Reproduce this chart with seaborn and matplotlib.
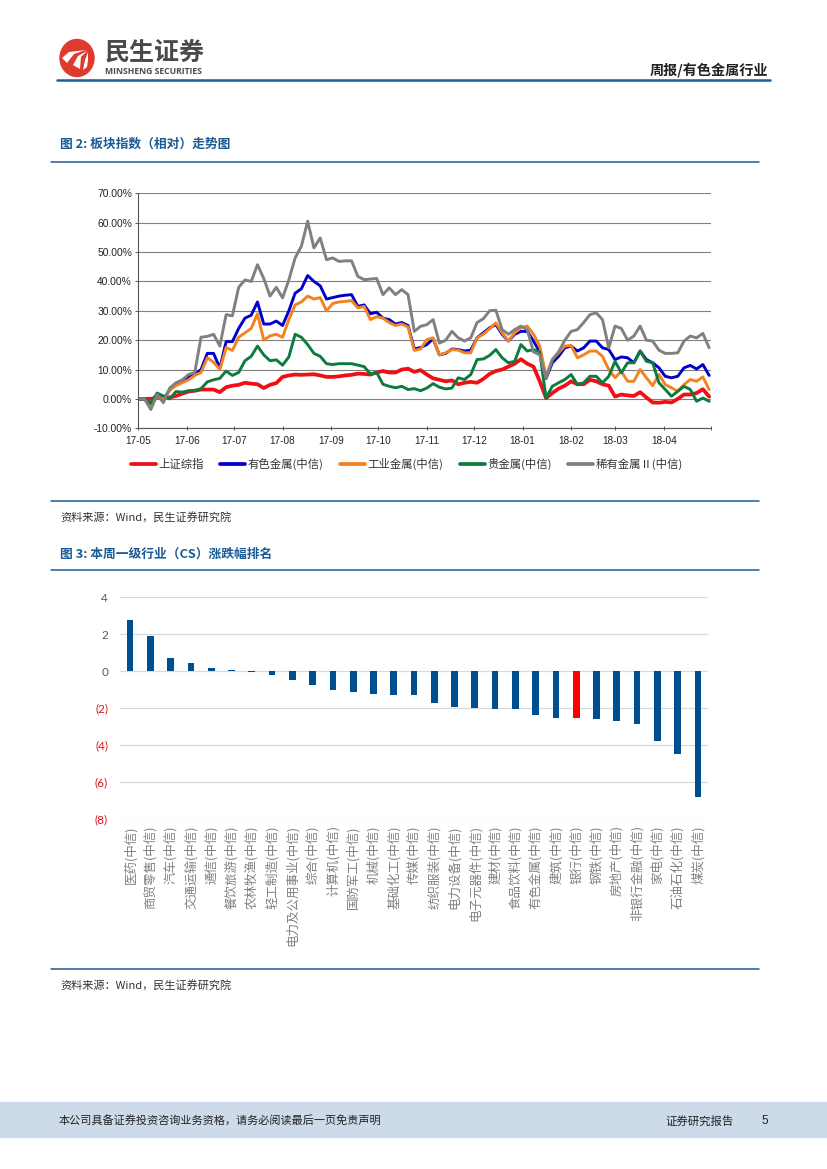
import matplotlib
matplotlib.use("Agg")
import matplotlib.pyplot as plt
from matplotlib.patches import Ellipse, Rectangle
import seaborn as sns
import pandas as pd

W, H = 827, 1169
CJK = ['Noto Sans CJK SC', 'DejaVu Sans']
NAVY = "#1B5A94"

# ---- chart 1: relative index, one reading every 4 days ----
dates = pd.date_range("2017-05-01", periods=92, freq="4D")
sse = [0, 0, 0, 0.5, 0.7, 0.5, 1, 1.8, 2.5, 2.8, 3.2, 3.2, 3.2, 2.3, 4, 4.5, 4.8, 5.5, 5.2, 5.0, 3.7, 4.8, 5.4,
       7.5, 8, 8.3, 8.2, 8.3, 8.4, 8, 7.5, 7.5, 7.7, 8, 8.2, 8.6, 8.5, 8.3, 9, 9.5, 9, 9, 10, 10.3, 9.2, 9.8,
       8.3, 7, 6.5, 6, 6.3, 5, 5.5, 5.8, 5.5, 6.8, 8.5, 9.5, 10, 11, 12, 13.5, 12, 11, 6, 0.3, 2.0, 3.5, 4.5, 6,
       5, 5, 6.5, 6, 5, 4.5, 0.8, 1.5, 1.2, 1, 2.3, 0.5, -1.2, -1.3, -1, -1.2, 0, 1.5, 1.5, 2, 3.3, 0.8]
nonferrous = [0, 0, -2.5, 1.5, 0, 3, 5, 6, 7.5, 8.5, 10, 15.5, 15.5, 10.5, 19.5, 19.5, 24, 27.5, 28.5, 33, 25.5, 25.5,
              26.5, 25, 30, 36, 37.5, 42, 40, 38.5, 34, 34.5, 35, 35.3, 35.5, 31.5, 32, 29, 29.5, 27.5, 27, 25.5, 26,
              25, 17, 17.5,
              18.5, 20.5, 15, 15.5, 17, 16.8, 16.3, 16.6, 20.8, 22.5, 24.2, 25.3, 22, 19.7, 22, 23, 23, 19.7, 16, 7,
              12.3, 14.5, 17.4, 18, 16.3, 17.4, 19.7, 19.7, 17.4, 16.8, 13.4, 14.3, 14, 12.3, 16.3, 13.4, 12.3, 10.6,
              7.7, 7.2, 7.7, 10.6, 11.4, 10.2, 11.7, 8]
industrial = [0, 0, -2.5, 1, 0, 3, 4.5, 5.5, 6.5, 8, 9, 14, 12.5, 10, 17.5, 16.5, 21, 22.5, 24, 29, 20, 21.5, 22, 21,
              27, 32, 33, 35, 34, 34.5, 30, 32.5, 33, 33.2, 33.5, 31, 31.5, 27, 28, 27.5, 26, 25, 25.5, 24.5, 16.5, 17,
              20.2, 20.8, 15, 15.7, 16.8, 16.6, 15.7, 15.7, 20.8, 22, 23.9, 25.9, 22.5, 19.7, 22.5, 24.2, 24.8, 22, 18,
              7.7, 13.4, 15.7, 18, 18.2, 14, 15, 16.3, 16.3, 14.5, 10, 7.2, 9.4, 6, 6, 10, 7.2, 4.5, 8.3, 4.9, 3.8,
              2.6, 4.9, 6.6, 6, 7.5, 3.2]
precious = [0, 0, -1.5, 2, 1, 0, 2.5, 2.3, 2.8, 2.8, 3.5, 5.8, 6.5, 7, 9.5, 8, 9, 13, 14.5, 18, 15, 13, 13.3, 11.5,
            14.3, 22, 21, 18.5, 15.5, 14.5, 12, 11.7, 12, 12, 12, 11.5, 11, 8.5, 9, 5, 4.3, 3.8, 4.3, 3.2, 3.5, 2.8,
            3.7, 5.2, 4, 3.4, 3.7, 7.2, 6.6, 8.3, 13.4, 13.6, 14.8, 16.8, 14, 12.3, 12.8, 18.5, 16.3, 16.8, 16, 0.3,
            4.3, 5.5, 6.6, 8.3, 4.9, 5.5, 7.7, 7.7, 5.5, 7.7, 12.8, 8.9, 12.3, 12.3, 16.3, 12.8, 12.3, 5.5, 3.2, 0.9,
            2.6, 4.3, 3.2, -0.8, 0.3, -0.8]
rare = [0, 0, -3.6, 1.5, -1.3, 3.7, 5.5, 6.5, 8.3, 9, 21, 21.3, 22, 18, 28.7, 28.3, 38, 40.5, 40, 45.7, 41, 35, 38,
        34.4, 40.5, 48, 52, 60.5, 51.4, 54.8, 47.4, 48, 46.8, 47, 47, 41.7, 40.6, 40.8, 41, 35.5, 37.8, 35.5, 37.2,
        35.5, 23, 24.7,
        25.3, 27, 19, 20, 23, 20.8, 19.7, 20.8, 26, 27.3, 30, 30.2, 23.6, 22, 23.6, 24.8, 23.6, 16, 15, 7, 13.4, 16,
        20, 23, 23.6, 26, 28.7, 29.3, 27, 17.4, 24.8, 24, 20, 21.4, 24.8, 20, 19.7, 16.6, 15.5, 15.5, 15.7, 19.7,
        21.4, 20.8, 22.3, 17.4]
series_names = ["上证综指", "有色金属(中信)", "工业金属(中信)", "贵金属(中信)", "稀有金属Ⅱ(中信)"]
series_colors = ["#F00F14", "#0000CC", "#F58220", "#0B7B3E", "#808080"]
pct_ticks = [-10, 0, 10, 20, 30, 40, 50, 60, 70]

# ---- chart 2: weekly industry move ----
industries = ["医药", "商贸零售", "汽车", "交通运输", "通信", "餐饮旅游", "农林牧渔", "轻工制造", "电力及公用事业", "综合",
              "计算机", "国防军工", "机械", "基础化工", "传媒", "纺织服装", "电力设备", "电子元器件", "建材", "食品饮料",
              "有色金属", "建筑", "银行", "钢铁", "房地产", "非银行金融", "家电", "石油石化", "煤炭"]
moves = [2.75, 1.9, 0.72, 0.42, 0.15, 0.05, -0.03, -0.18, -0.5, -0.75, -1.02, -1.15, -1.22, -1.27, -1.28, -1.72,
         -1.92, -1.97, -2.04, -2.04, -2.36, -2.53, -2.54, -2.58, -2.69, -2.87, -3.79, -4.48, -6.8]
move_ticks = [4, 2, 0, -2, -4, -6, -8]
highlight = "银行"


def axes_px(fig, left, top, right, bottom):
    return fig.add_axes([left / W, 1 - bottom / H, (right - left) / W, (bottom - top) / H])


def draw_page(page):
    # page furniture, coordinates in pixels of the page
    page.set_xlim(0, W)
    page.set_ylim(H, 0)
    page.axis("off")

    # logo
    page.add_patch(Ellipse((77, 58), 34, 37, color="#DF3A30"))
    page.fill([62, 69, 86, 74, 67], [58, 52, 50, 54, 63], color="white", lw=0)
    page.fill([73, 78, 87, 81, 80], [65, 56, 51, 57, 69], color="white", lw=0)
    page.fill([83, 85, 88, 88, 87], [70, 60, 52, 60, 67], color="white", lw=0)
    page.text(104.5, 53, "民生证券", family=CJK, fontsize=18, fontweight="bold", color="#4A4A4A", va="center")
    page.text(105, 71, "MINSHENG SECURITIES", family="Open Sans", fontsize=6.2, fontweight="bold",
              color="#4A4A4A", va="center")
    page.text(768, 70, "周报/有色金属行业", family=CJK, fontsize=10.2, fontweight="bold", color="#222222",
              ha="right", va="center")
    page.plot([57, 770], [80, 80], color=NAVY, lw=1.8)

    # section rules and captions
    for y in [161.5, 500.5, 570, 969]:
        page.plot([51, 759], [y, y], color=NAVY, lw=1.1)
    page.text(60, 144, "图 2: 板块指数（相对）走势图", family=CJK, fontsize=9.2, fontweight="bold", color=NAVY, va="center")
    page.text(60, 554, "图 3: 本周一级行业（CS）涨跌幅排名", family=CJK, fontsize=9.2, fontweight="bold", color=NAVY,
              va="center")
    page.text(60, 517, "资料来源：Wind，民生证券研究院", family=CJK, fontsize=8, color="#333333", va="center")
    page.text(60, 985, "资料来源：Wind，民生证券研究院", family=CJK, fontsize=8, color="#333333", va="center")

    # footer band
    page.add_patch(Rectangle((0, 1102), W, 35, color="#CCDAE9"))
    page.text(59, 1121, "本公司具备证券投资咨询业务资格，请务必阅读最后一页免责声明", family=CJK, fontsize=8,
              color="#222222", va="center")
    page.text(665, 1121, "证券研究报告", family=CJK, fontsize=8.2, color="#222222", va="center")
    page.text(761, 1121, "5", family="Liberation Sans", fontsize=8.5, color="#222222", va="center")


def draw_lines(ax):
    frames = []
    for name, values in zip(series_names, [sse, nonferrous, industrial, precious, rare]):
        frames.append(pd.DataFrame({"date": dates, "value": values, "series": name}))
    df = pd.concat(frames)
    sns.lineplot(data=df, x="date", y="value", hue="series", hue_order=series_names,
                 palette=dict(zip(series_names, series_colors)), linewidth=2.1, errorbar=None, ax=ax)
    ax.lines[0].set_linewidth(2.7)  # the index line is heavier than the sectors

    ax.set_xlim(pd.Timestamp("2017-05-01"), pd.Timestamp("2018-05-01"))
    ax.set_ylim(-10, 70)
    ax.set_xlabel("")
    ax.set_ylabel("")
    ax.set_yticks(pct_ticks)
    ax.set_yticklabels([f"{t:.2f}%" for t in pct_ticks], family="Liberation Sans", fontsize=7.4, color="#222222")
    ticks = pd.date_range("2017-05-01", "2018-05-01", freq="MS")
    ax.set_xticks(ticks)
    ax.set_xticklabels([d.strftime("%y-%m") for d in ticks[:-1]] + [""],
                       family="Liberation Sans", fontsize=7.2, color="#222222")
    ax.grid(axis="y", color="#808080", lw=0.8)
    ax.set_axisbelow(True)
    ax.tick_params(axis="x", direction="inout", length=3.5, width=0.7, color="#555555", pad=3.5, bottom=True)
    ax.tick_params(axis="y", direction="out", length=2.5, width=0.7, color="#555555", pad=2, left=True)
    for side in ["top", "right"]:
        ax.spines[side].set_visible(False)
    for side in ["left", "bottom"]:
        ax.spines[side].set_color("#555555")
        ax.spines[side].set_linewidth(0.8)

    handles, names = ax.get_legend_handles_labels()
    leg = ax.legend(handles, names, ncol=5, loc="center", bbox_to_anchor=(0.469, -0.152), frameon=False,
                    prop={"family": CJK, "size": 8.2}, labelcolor="#333333", handlelength=2.2, handletextpad=0.2,
                    columnspacing=1.45)
    for line in leg.get_lines():
        line.set_linewidth(2.7)


def draw_bars(ax):
    df = pd.DataFrame({"industry": [f"{n}(中信)" for n in industries], "move": moves, "name": industries})
    palette = {n: ("#FF0000" if n == highlight else "#004E92") for n in industries}
    sns.barplot(data=df, x="industry", y="move", hue="name", palette=palette, dodge=False, width=0.33,
                saturation=1, linewidth=0, legend=False, ax=ax)
    ax.set_xlim(-0.5, len(industries) - 0.5)
    ax.set_ylim(-8, 4)
    ax.set_xlabel("")
    ax.set_ylabel("")
    ax.set_yticks(move_ticks)
    ax.set_yticklabels([str(t) if t >= 0 else f"({-t})" for t in move_ticks], family="Lato", fontsize=8.5)
    for label, t in zip(ax.get_yticklabels(), move_ticks):
        label.set_color("#595959" if t >= 0 else "#D8141C")
    ax.tick_params(axis="x", rotation=90, length=0, pad=4.5, labelsize=9, labelcolor="#808080")
    ax.tick_params(axis="y", length=0, pad=8.6)
    for label in ax.get_xticklabels():
        label.set_family(CJK)
        label.set_va("top")
    ax.grid(axis="y", color="#D9D9D9", lw=0.9)
    ax.set_axisbelow(True)
    sns.despine(ax=ax, left=True, bottom=True)


def main():
    sns.set_theme(style="white")
    plt.rcParams['font.family'] = CJK
    plt.rcParams['axes.unicode_minus'] = False
    fig = plt.figure(figsize=(W / 100, H / 100), dpi=100, facecolor="white")

    page = fig.add_axes([0, 0, 1, 1], zorder=0)
    draw_page(page)

    line_ax = axes_px(fig, 138.3, 193.3, 710.7, 428.3)
    line_ax.patch.set_alpha(0)
    draw_lines(line_ax)

    bar_ax = axes_px(fig, 120, 597.3, 708, 819)
    bar_ax.patch.set_alpha(0)
    draw_bars(bar_ax)

    fig.savefig("out.png", dpi=100)


if __name__ == "__main__":
    main()
